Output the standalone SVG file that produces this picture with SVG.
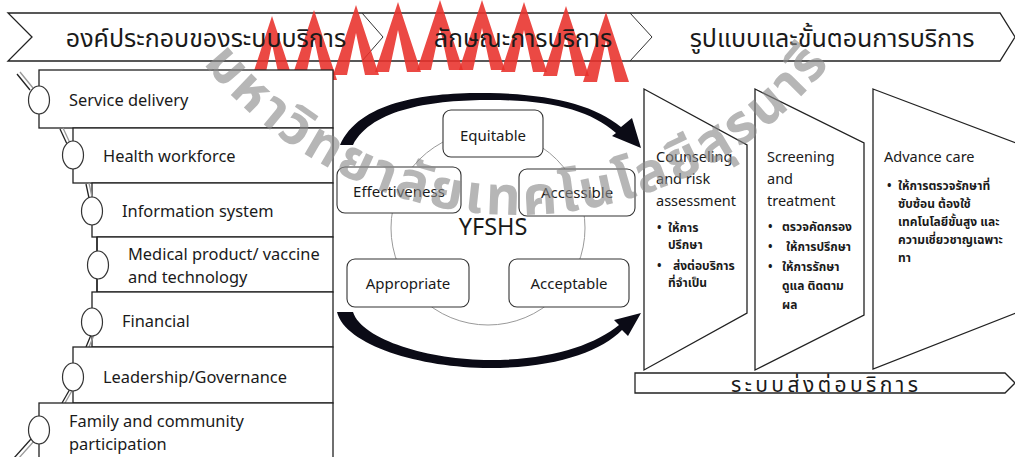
<svg xmlns="http://www.w3.org/2000/svg" width="1015" height="457" viewBox="0 0 1015 457">
<defs>
<path id="chev" d="M0,0 L23,70 L9,70 L0,28 L-9,70 L-23,70 Z"/>
</defs>
<style>
.ln{fill:#fff;stroke:#222;stroke-width:1.3}
.sep{fill:none;stroke:#333;stroke-width:1}
.ring{fill:#fff;stroke:#333;stroke-width:1.2}
.pin{stroke:#222;stroke-width:1.3;fill:none}
.pin2{stroke:#999;stroke-width:1.3;fill:none}
.t{font-family:"Noto Sans","DejaVu Sans",sans-serif;fill:#1a1a1a}
.th{font-family:"Noto Sans Thai","Noto Sans Thai UI","Noto Sans","DejaVu Sans",sans-serif;fill:#1a1a1a}
.lbl{font-size:16.4px}
.bx{font-size:15px}
.rb{fill:#fff;stroke:#333;stroke-width:1.1}
.arc{fill:#0b0b16}
.red{fill:#e8302a;opacity:0.88}
.wm{font-family:"Noto Sans Thai","Noto Sans","DejaVu Sans",sans-serif;font-weight:bold;font-size:54px;fill:#8a8a8a;opacity:0.62}
</style>

<g id="banner">
<path class="ln" d="M8,13 L1000,13 L1015,37 L1000,61 L8,61 L32,37 Z" stroke-width="1"/>
<polyline class="sep" points="362,13 383,37 362,61"/>
<polyline class="sep" points="630,13 652,37 630,61"/>
</g>

<g id="logo">
<use href="#chev" class="red" x="272" y="16"/>
<use href="#chev" class="red" x="314" y="10"/>
<use href="#chev" class="red" x="356" y="5"/>
<use href="#chev" class="red" x="398" y="2"/>
<use href="#chev" class="red" x="440" y="0"/>
<use href="#chev" class="red" x="482" y="0"/>
<use href="#chev" class="red" x="524" y="2"/>
<use href="#chev" class="red" x="566" y="6"/>
<use href="#chev" class="red" x="606" y="12"/>
</g>

<g id="banner-text">
<text class="th" x="206" y="47" font-size="25" text-anchor="middle">องค์ประกอบของระบบบริการ</text>
<text class="th" x="523" y="47" font-size="25" text-anchor="middle">ลักษณะการบริการ</text>
<text class="th" x="832" y="47" font-size="25" text-anchor="middle">รูปแบบและขั้นตอนการบริการ</text>
</g>

<g id="components">
<g id="n-service"><rect class="ln" x="39" y="70" width="294" height="58"/><line class="pin2" x1="20" y1="72" x2="33" y2="88"/><line class="pin" x1="17" y1="74" x2="30" y2="90"/><ellipse class="ring" cx="39" cy="100" rx="10.5" ry="14"/><text class="t lbl" x="69" y="106">Service delivery</text></g>
<g id="n-health"><rect class="ln" x="73" y="128" width="260" height="55"/><line class="pin2" x1="63" y1="128" x2="70" y2="143"/><line class="pin" x1="60" y1="129" x2="67" y2="144"/><ellipse class="ring" cx="73" cy="155" rx="10.5" ry="14"/><text class="t lbl" x="103" y="162">Health workforce</text></g>
<g id="n-info"><rect class="ln" x="92" y="183" width="241" height="54"/><line class="pin2" x1="89" y1="183" x2="92" y2="197"/><line class="pin" x1="86" y1="184" x2="89" y2="198"/><ellipse class="ring" cx="92" cy="211" rx="10.5" ry="14"/><text class="t lbl" x="122" y="217">Information system</text></g>
<g id="n-medical"><rect class="ln" x="97" y="237" width="236" height="55"/><line class="pin" x1="97" y1="237" x2="97" y2="252" stroke-width="2.5"/><line class="pin" x1="97" y1="278" x2="97" y2="292" stroke-width="2.5"/><ellipse class="ring" cx="98" cy="265" rx="10.5" ry="14"/><text class="t lbl" x="128" y="260">Medical product/ vaccine</text><text class="t lbl" x="128" y="283">and technology</text></g>
<g id="n-financial"><rect class="ln" x="92" y="292" width="241" height="55"/><line class="pin2" x1="89" y1="347" x2="94" y2="335"/><line class="pin" x1="86" y1="347" x2="91" y2="335"/><ellipse class="ring" cx="92" cy="322" rx="10.5" ry="14"/><text class="t lbl" x="122" y="327">Financial</text></g>
<g id="n-leadership"><rect class="ln" x="73" y="347" width="260" height="56"/><line class="pin2" x1="65" y1="403" x2="73" y2="389"/><line class="pin" x1="62" y1="403" x2="70" y2="389"/><ellipse class="ring" cx="73" cy="377" rx="10.5" ry="14"/><text class="t lbl" x="103" y="383">Leadership/Governance</text></g>
<g id="n-family"><rect class="ln" x="39" y="403" width="294" height="62"/><line class="pin2" x1="18" y1="459" x2="35" y2="440"/><line class="pin" x1="14" y1="458" x2="31" y2="439"/><ellipse class="ring" cx="39" cy="430" rx="10.5" ry="14"/><text class="t lbl" x="69" y="427">Family and community</text><text class="t lbl" x="69" y="450">participation</text></g>
</g>

<g id="characteristics">
<circle cx="488" cy="228" r="97" fill="none" stroke="#9a9a9a" stroke-width="1"/>
<g id="n-equitable"><rect class="rb" x="443" y="110" width="100" height="47" rx="8"/><text class="t bx" x="493" y="141" text-anchor="middle">Equitable</text></g>
<g id="n-effectiveness"><rect class="rb" x="337" y="167" width="124" height="46" rx="8"/><text class="t bx" x="399" y="197" text-anchor="middle">Effectiveness</text></g>
<g id="n-accessible"><rect class="rb" x="519" y="169" width="116" height="47" rx="8"/><text class="t bx" x="577" y="198" text-anchor="middle">Accessible</text></g>
<g id="n-appropriate"><rect class="rb" x="347" y="259" width="122" height="48" rx="8"/><text class="t bx" x="408" y="289" text-anchor="middle">Appropriate</text></g>
<g id="n-acceptable"><rect class="rb" x="509" y="259" width="120" height="48" rx="8"/><text class="t bx" x="569" y="289" text-anchor="middle">Acceptable</text></g>
<text class="t" x="493" y="235" font-size="23.5" text-anchor="middle">YFSHS</text>
</g>

<g id="connectors">
<path class="arc" d="M340,145 C360,100 430,92 490,93 C550,94 595,105 621,127 L632,118 L641,148 L612,136 L616,133 C590,110 550,100 490,100 C435,100 372,108 353,145 Z"/>
<path class="arc" d="M337,312 C345,345 420,368 490,368 C555,368 600,352 622,330 L628,336 L641,313 L614,320 L619,325 C595,345 550,360 490,360 C430,360 362,340 353,312 Z"/>
</g>

<g id="services">
<g id="n-counseling"><polygon class="ln" points="644,89 747,145 747,313 644,370"/>
<text class="t" font-size="14.5"><tspan x="656" y="162">Counseling</tspan><tspan x="656" y="184">and risk</tspan><tspan x="656" y="206">assessment</tspan></text>
<text class="th" font-size="12" font-weight="bold"><tspan x="657" y="232">•</tspan><tspan x="668" y="232">ให้การ</tspan><tspan x="668" y="249">ปรึกษา</tspan><tspan x="657" y="270">•</tspan><tspan x="673" y="270">ส่งต่อบริการ</tspan><tspan x="668" y="287">ที่จำเป็น</tspan></text>
</g>
<g id="n-screening"><polygon class="ln" points="755,89 864,143 864,315 755,370"/>
<text class="t" font-size="14.5" fill="#333"><tspan x="767" y="162">Screening</tspan><tspan x="767" y="184">and</tspan><tspan x="767" y="206">treatment</tspan></text>
<text class="th" font-size="12" font-weight="bold"><tspan x="768" y="231">•</tspan><tspan x="782" y="231">ตรวจคัดกรอง</tspan><tspan x="768" y="251">•</tspan><tspan x="786" y="251">ให้การปรึกษา</tspan><tspan x="768" y="271">•</tspan><tspan x="782" y="271">ให้การรักษา</tspan><tspan x="782" y="290">ดูแล ติดตาม</tspan><tspan x="782" y="309">ผล</tspan></text>
</g>
<g id="n-advance"><polygon class="ln" points="873,89 1016,143 1016,313 873,369"/>
<text class="t" x="884" y="162" font-size="14.5">Advance care</text>
<text class="th" font-size="12" font-weight="bold"><tspan x="887" y="190">•</tspan><tspan x="898" y="190">ให้การตรวจรักษาที่</tspan><tspan x="898" y="208">ซับซ้อน  ต้องใช้</tspan><tspan x="898" y="226">เทคโนโลยีขั้นสูง และ</tspan><tspan x="898" y="244">ความเชี่ยวชาญเฉพาะ</tspan><tspan x="898" y="262">ทา</tspan></text>
</g>
<g id="n-referral"><path class="ln" d="M635,373 L1005,373 L1015,383 L1005,393 L635,393 Z" stroke-width="1"/>
<text class="th" x="731" y="392" font-size="21" textLength="187" lengthAdjust="spacing">ระบบส่งต่อบริการ</text></g>
</g>

<g id="watermark">
<path id="wmarc" d="M203,63 A400,400 0 0 0 846,42" fill="none"/>
<text class="wm"><textPath href="#wmarc" textLength="720" lengthAdjust="spacing">มหาวิทยาลัยเทคโนโลยีสุรนารี</textPath></text>
</g>
</svg>
